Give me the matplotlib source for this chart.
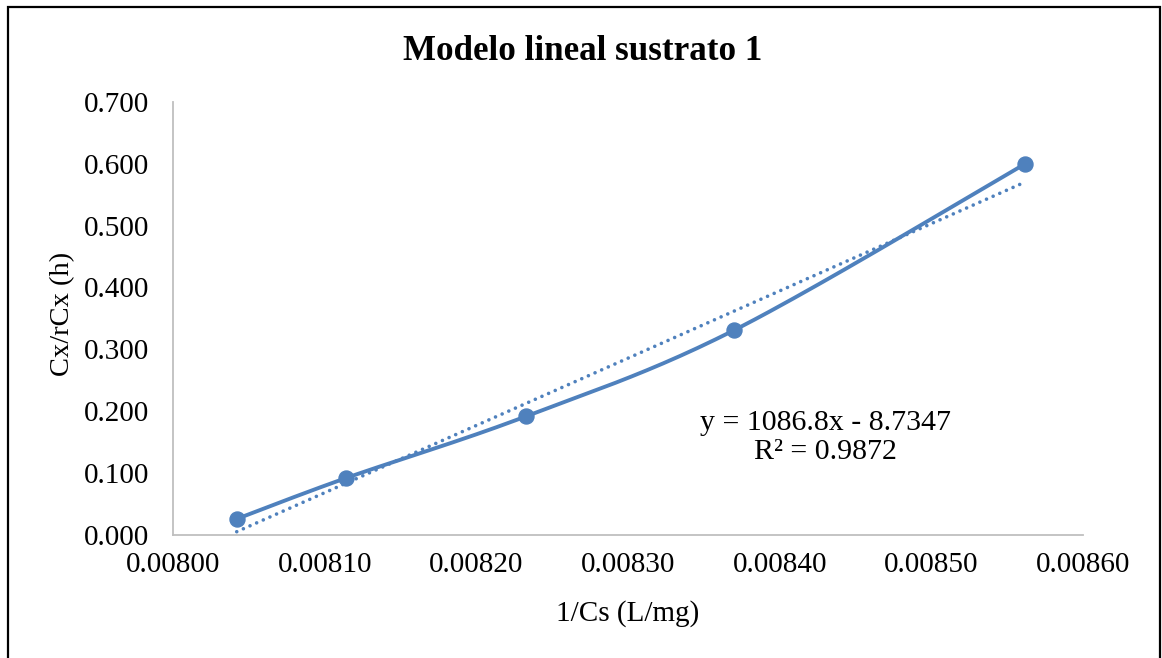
import numpy as np
import matplotlib
matplotlib.use('Agg')
import matplotlib.pyplot as plt
from matplotlib.patches import Rectangle
from matplotlib.ticker import FormatStrFormatter

# datos
inv_cs = [0.008042, 0.008114, 0.008233, 0.008370, 0.008562]
cx_rcx = [0.026, 0.092, 0.192, 0.331, 0.600]
pendiente = 1086.8
intercepto = -8.7347
r2 = 0.9872

azul = '#4F81BD'
gris = '#BFBFBF'


# curva suave tipo Excel (Bezier con tension 1/6)
def curva_suave(x, y, n=40):
    x = np.asarray(x)
    y = np.asarray(y)
    sx = x.max() - x.min()
    sy = y.max() - y.min()
    px = np.concatenate([[x[0]], x, [x[-1]]]) / sx
    py = np.concatenate([[y[0]], y, [y[-1]]]) / sy
    xs, ys = [], []
    t = np.linspace(0, 1, n)
    for i in range(1, len(px) - 2):
        p0 = np.array([px[i], py[i]])
        p3 = np.array([px[i + 1], py[i + 1]])
        c1 = p0 + (p3 - np.array([px[i - 1], py[i - 1]])) / 6
        c2 = p3 - (np.array([px[i + 2], py[i + 2]]) - p0) / 6
        b = ((1 - t) ** 3)[:, None] * p0 + (3 * (1 - t) ** 2 * t)[:, None] * c1 \
            + (3 * (1 - t) * t ** 2)[:, None] * c2 + (t ** 3)[:, None] * p3
        xs.extend(b[:, 0] * sx)
        ys.extend(b[:, 1] * sy)
    return np.array(xs), np.array(ys)


plt.rcParams['font.family'] = ['Liberation Serif', 'DejaVu Serif']

fig = plt.figure(figsize=(11.62, 6.58), dpi=100)
ax = fig.add_axes([0.1489, 0.1869, 0.7832, 0.6585])

cx, cy = curva_suave(inv_cs, cx_rcx)
ax.plot(cx, cy, color=azul, lw=2.8, solid_capstyle='round', zorder=3)
ax.plot(inv_cs, cx_rcx, 'o', color=azul, ms=10.8, zorder=4)

xt = np.array([inv_cs[0], inv_cs[-1]])
ax.plot(xt, pendiente * xt + intercepto, color=azul, lw=2.6,
        linestyle=(0, (0.01, 2.0)), dash_capstyle='round', zorder=2)

ax.text(0.00843, 0.158, f'y = {pendiente}x - {abs(intercepto)}\nR² = {r2}',
        ha='center', va='center', fontsize=21.5, linespacing=1.15)

ax.set_xlim(0.0080, 0.0086)
ax.set_ylim(0, 0.7)
ax.set_xticks(np.arange(0.0080, 0.00861, 0.0001))
ax.set_yticks(np.arange(0, 0.701, 0.1))
ax.xaxis.set_major_formatter(FormatStrFormatter('%.5f'))
ax.yaxis.set_major_formatter(FormatStrFormatter('%.3f'))
ax.tick_params(length=0, labelsize=21)
ax.tick_params(axis='y', pad=17)
ax.tick_params(axis='x', pad=12)
for s in ['top', 'right']:
    ax.spines[s].set_visible(False)
for s in ['left', 'bottom']:
    ax.spines[s].set_color(gris)
    ax.spines[s].set_linewidth(1.3)

fig.text(0.5017, 0.921, 'Modelo lineal sustrato 1', ha='center', va='center',
         fontsize=25.2, fontweight='bold')
fig.text(0.054, 0.523, 'Cx/rCx (h)', ha='center', va='center', rotation=90, fontsize=20.5)
fig.text(0.540, 0.068, '1/Cs (L/mg)', ha='center', va='center', fontsize=21)

# marco del area del grafico
fig.patches.append(Rectangle((8 / 1162, -0.05), 1152 / 1162, 1.05 - 7 / 658,
                             transform=fig.transFigure, fill=False,
                             edgecolor='black', lw=1.6))

fig.savefig('out.png', dpi=100)
